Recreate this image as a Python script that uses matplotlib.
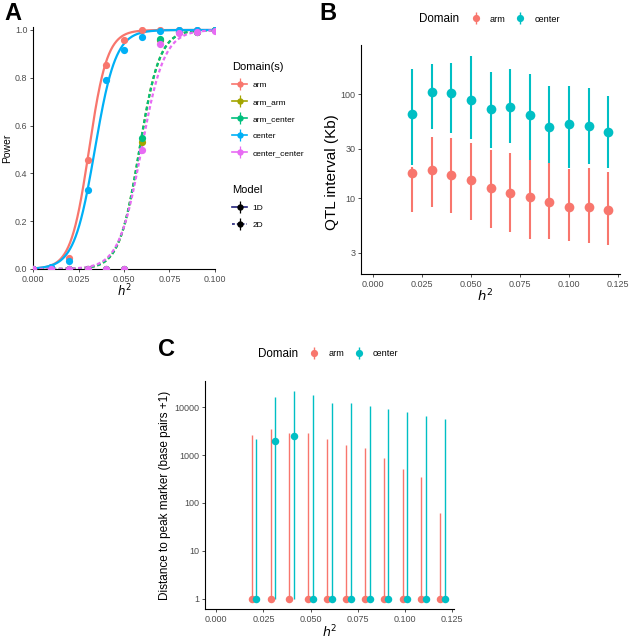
import numpy as np
import matplotlib
matplotlib.use("Agg")
import matplotlib.pyplot as plt
from matplotlib.lines import Line2D
from matplotlib.ticker import FixedLocator, FixedFormatter, NullLocator

plt.rcParams['font.family'] = ['Liberation Sans', 'DejaVu Sans']
plt.rcParams['mathtext.fontset'] = 'dejavusans'

# ---------------- Panel A data ----------------
h2_power = [0.00, 0.01, 0.02, 0.03, 0.04, 0.05, 0.06, 0.07, 0.08, 0.09, 0.10]
power_arm = [0.0, 0.005, 0.046, 0.457, 0.852, 0.957, 1.0, 1.0, 1.0, 1.0, 1.0]
power_arm_arm = [0.0, 0.0, 0.0, 0.0, 0.0, 0.0, 0.533, 0.960, 0.990, 0.990, 1.0]
power_arm_center = [0.0, 0.0, 0.0, 0.0, 0.0, 0.0, 0.548, 0.963, 0.990, 0.990, 1.0]
power_center = [0.0, 0.007, 0.032, 0.331, 0.790, 0.916, 0.970, 0.994, 1.0, 1.0, 1.0]
power_center_center = [0.0, 0.0, 0.0, 0.0, 0.0, 0.0, 0.499, 0.940, 0.986, 0.990, 0.997]

domains_a = ['arm', 'arm_arm', 'arm_center', 'center', 'center_center']
colors_a = ['#F8766D', '#A3A500', '#00BF7D', '#00B0F6', '#E76BF3']
model_a = ['1D', '2D', '2D', '1D', '2D']
# logistic (binomial glm) fit parameters
fit_midpoint = [0.0308, 0.0585, 0.0585, 0.0340, 0.0596]
fit_slope = [200, 180, 180, 175, 160]

# ---------------- Panel B data ----------------
h2_qtl = [0.02, 0.03, 0.04, 0.05, 0.06, 0.07, 0.08, 0.09, 0.10, 0.11, 0.12]
qtl_arm = [17.5, 18.7, 16.9, 14.9, 12.5, 11.2, 10.3, 9.2, 8.3, 8.3, 7.7]
qtl_arm_lo = [7.45, 8.3, 7.2, 6.2, 5.15, 4.8, 4.1, 4.05, 3.93, 3.7, 3.57]
qtl_arm_hi = [20.0, 39.0, 38.0, 34.0, 29.0, 27.4, 23.3, 22.0, 19.0, 19.4, 17.7]
qtl_center = [64.7, 104, 102, 87.5, 72.3, 74.4, 62.5, 47.9, 51.2, 49.3, 42.9]
qtl_center_lo = [20.8, 46.0, 41.9, 36.7, 30.1, 34.2, 23.3, 21.6, 19.4, 21.2, 19.7]
qtl_center_hi = [172, 192, 197, 231, 164, 172, 156, 119, 119, 113, 95.7]

# ---------------- Panel C data ----------------
h2_dist = [0.02, 0.03, 0.04, 0.05, 0.06, 0.07, 0.08, 0.09, 0.10, 0.11, 0.12]
dist_arm = [1, 1, 1, 1, 1, 1, 1, 1, 1, 1, 1]
dist_arm_lo = [1, 1, 1, 1, 1, 1, 1, 1, 1, 1, 1]
dist_arm_hi = [2610, 3470, 2870, 2920, 2150, 1640, 1420, 890, 502, 343, 62]
dist_center = [1, 1990, 2490, 1, 1, 1, 1, 1, 1, 1, 1]
dist_center_lo = [1, 1, 1, 1, 1, 1, 1, 1, 1, 1, 1]
dist_center_hi = [2190, 16400, 21500, 18100, 12100, 12500, 10800, 9080, 7870, 6500, 5620]

domains_bc = ['arm', 'center']
colors_bc = ['#F8766D', '#00BFC4']

TICK_GREY = '#4D4D4D'

W, H = 633, 642
fig = plt.figure(figsize=(W / 100, H / 100), dpi=100)


def px_axes(l, t, r, b):
    return fig.add_axes([l / W, 1 - b / H, (r - l) / W, (b - t) / H])


def classic(ax, tick_fs):
    for s in ['top', 'right']:
        ax.spines[s].set_visible(False)
    for s in ['left', 'bottom']:
        ax.spines[s].set_linewidth(0.8)
        ax.spines[s].set_color('black')
    ax.tick_params(axis='both', length=2.5, width=0.6, color='#333333',
                   labelsize=tick_fs, labelcolor=TICK_GREY, pad=1.5)


# ======================= Panel A =======================
axA = px_axes(33, 27, 215, 269)
classic(axA, 6.4)
hs = np.linspace(0, 0.1, 300)
series_a = [power_arm, power_arm_arm, power_arm_center, power_center, power_center_center]
for dom, col, mdl, mid, slp in zip(domains_a, colors_a, model_a, fit_midpoint, fit_slope):
    fit = 1.0 / (1.0 + np.exp(-slp * (hs - mid)))
    if mdl == '1D':
        axA.plot(hs, fit, color=col, lw=1.6, zorder=2, solid_capstyle='butt')
    else:
        axA.plot(hs, fit, color=col, lw=1.6, dashes=(1.7, 1.2), zorder=2)
for dom, col, vals in zip(domains_a, colors_a, series_a):
    axA.plot(h2_power, vals, 'o', color=col, ms=5.2, mec='none', zorder=3)
axA.set_xlim(0, 0.1)
axA.set_ylim(0, 1.0125)
axA.xaxis.set_major_locator(FixedLocator([0, 0.025, 0.05, 0.075, 0.1]))
axA.xaxis.set_major_formatter(FixedFormatter(['0.000', '0.025', '0.050', '0.075', '0.100']))
axA.yaxis.set_major_locator(FixedLocator([0, 0.2, 0.4, 0.6, 0.8, 1.0]))
axA.yaxis.set_major_formatter(FixedFormatter(['0.0', '0.2', '0.4', '0.6', '0.8', '1.0']))
axA.set_ylabel('Power', fontsize=7.5)
axA.set_xlabel(r'$h^2$', fontsize=8.5)
axA.yaxis.set_label_coords(-0.14, 0.5)
axA.xaxis.set_label_coords(0.5, -0.09)
axA.xaxis.label.set_va('center')
axA.yaxis.label.set_va('center')

# legend A: Domain(s)
dom_handles = []
for col in colors_a:
    dom_handles.append((Line2D([], [], color=col, lw=1.2),
                        Line2D([], [], marker='|', color=col, ms=8, mew=0.9, ls='none'),
                        Line2D([], [], marker='o', color=col, ms=4.6, mec='none', ls='none')))
fig.legend(dom_handles, domains_a, title='Domain(s)', loc='upper left',
           bbox_to_anchor=(232 / W, 1 - 62 / H), fontsize=6, title_fontsize=8,
           frameon=False, borderpad=0, borderaxespad=0, handlelength=1.8,
           handletextpad=0.7, labelspacing=1.1, alignment='left')
navy = '#23237A'
mod_handles = [
    (Line2D([], [], color=navy, lw=1.2),
     Line2D([], [], marker='|', color='black', ms=8, mew=0.9, ls='none'),
     Line2D([], [], marker='o', color='black', ms=4.6, mec='none', ls='none')),
    (Line2D([], [], color=navy, lw=1.2, dashes=(1.7, 1.2)),
     Line2D([], [], marker='|', color='black', ms=8, mew=0.9, ls='none'),
     Line2D([], [], marker='o', color='black', ms=4.6, mec='none', ls='none')),
]
fig.legend(mod_handles, ['1D', '2D'], title='Model', loc='upper left',
           bbox_to_anchor=(232 / W, 1 - 185 / H), fontsize=6, title_fontsize=8,
           frameon=False, borderpad=0, borderaxespad=0, handlelength=1.8,
           handletextpad=0.7, labelspacing=1.1, alignment='left')

# ======================= Panel B =======================
axB = px_axes(361, 45, 620, 274)
classic(axB, 6.5)
axB.set_yscale('log')
b_series = [(qtl_arm, qtl_arm_lo, qtl_arm_hi), (qtl_center, qtl_center_lo, qtl_center_hi)]
for col, (mid, lo, hi) in zip(colors_bc, b_series):
    axB.vlines(h2_qtl, lo, hi, color=col, lw=1.5, zorder=2)
    axB.plot(h2_qtl, mid, 'o', color=col, ms=7, mec='none', zorder=3)
axB.set_xlim(-0.006, 0.126)
axB.set_ylim(1.88, 295)
axB.xaxis.set_major_locator(FixedLocator([0, 0.025, 0.05, 0.075, 0.1, 0.125]))
axB.xaxis.set_major_formatter(FixedFormatter(['0.000', '0.025', '0.050', '0.075', '0.100', '0.125']))
axB.yaxis.set_major_locator(FixedLocator([3, 10, 30, 100]))
axB.yaxis.set_major_formatter(FixedFormatter(['3', '10', '30', '100']))
axB.yaxis.set_minor_locator(NullLocator())
axB.set_ylabel('QTL interval (Kb)', fontsize=11)
axB.set_xlabel(r'$h^2$', fontsize=9.5)
axB.yaxis.set_label_coords(-0.112, 0.445)
axB.xaxis.set_label_coords(0.48, -0.095)
axB.xaxis.label.set_va('center')
axB.yaxis.label.set_va('center')

fig.text(419 / W, 1 - 19 / H, 'Domain', fontsize=8.4, va='center', ha='left')
bc_handles = [(Line2D([], [], marker='|', color=c, ms=8, mew=1.0, ls='none'),
               Line2D([], [], marker='o', color=c, ms=5.2, mec='none', ls='none'))
              for c in colors_bc]
fig.legend(bc_handles, domains_bc, ncol=2, loc='center left',
           bbox_to_anchor=(471 / W, 1 - 19 / H), fontsize=6.6, frameon=False,
           borderpad=0, borderaxespad=0, handlelength=1.0, handletextpad=1.05,
           columnspacing=1.1)

# ======================= Panel C =======================
axC = px_axes(205, 381, 454, 609)
classic(axC, 6.5)
axC.set_yscale('log')
dodge = 0.00125
c_series = [(dist_arm, dist_arm_lo, dist_arm_hi, -dodge),
            (dist_center, dist_center_lo, dist_center_hi, dodge)]
for col, (mid, lo, hi, off) in zip(colors_bc, c_series):
    xs = np.asarray(h2_dist) + off
    axC.vlines(xs, lo, hi, color=col, lw=1.0, zorder=2)
for col, (mid, lo, hi, off) in zip(colors_bc, c_series):
    xs = np.asarray(h2_dist) + off
    axC.plot(xs, mid, 'o', color=col, ms=5.4, mec='none', zorder=3, clip_on=False)
axC.set_xlim(-0.006, 0.126)
axC.set_ylim(10 ** -0.217, 10 ** 4.55)
axC.xaxis.set_major_locator(FixedLocator([0, 0.025, 0.05, 0.075, 0.1, 0.125]))
axC.xaxis.set_major_formatter(FixedFormatter(['0.000', '0.025', '0.050', '0.075', '0.100', '0.125']))
axC.yaxis.set_major_locator(FixedLocator([1, 10, 100, 1000, 10000]))
axC.yaxis.set_major_formatter(FixedFormatter(['1', '10', '100', '1000', '10000']))
axC.yaxis.set_minor_locator(NullLocator())
axC.set_ylabel('Distance to peak marker (base pairs +1)', fontsize=8.5)
axC.set_xlabel(r'$h^2$', fontsize=9)
axC.yaxis.set_label_coords(-0.16, 0.5)
axC.xaxis.set_label_coords(0.5, -0.10)
axC.xaxis.label.set_va('center')
axC.yaxis.label.set_va('center')

fig.text(258 / W, 1 - 354 / H, 'Domain', fontsize=8.4, va='center', ha='left')
fig.legend(bc_handles, domains_bc, ncol=2, loc='center left',
           bbox_to_anchor=(309.5 / W, 1 - 354 / H), fontsize=6.6, frameon=False,
           borderpad=0, borderaxespad=0, handlelength=1.0, handletextpad=1.05,
           columnspacing=1.1)

# panel letters
for lab, x, y in [('A', 4, 2), ('B', 319, 2), ('C', 158, 338)]:
    fig.text(x / W, 1 - y / H, lab, fontsize=17, fontweight='bold', va='top', ha='left')

fig.savefig('out.png', dpi=100)
